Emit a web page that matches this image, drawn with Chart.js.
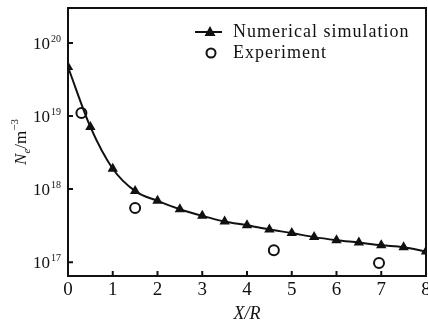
<!DOCTYPE html>
<html>
<head>
<meta charset="utf-8">
<script src="https://cdn.jsdelivr.net/npm/chart.js@4/dist/chart.umd.min.js"></script>
<style>
  html, body { margin: 0; padding: 0; background: #fff; }
  #wrap { width: 428px; height: 327px; }
</style>
</head>
<body>
<div id="wrap"><canvas id="chart"></canvas></div>
<script>
// simulation curve (triangles)
const simX = [0, 0.5, 1, 1.5, 2, 2.5, 3, 3.5, 4, 4.5, 5, 5.5, 6, 6.5, 7, 7.5, 8];
const simY = [4.7e19, 7.1e18, 1.9e18, 9.4e17, 6.9e17, 5.3e17, 4.3e17, 3.6e17, 3.2e17,
    2.8e17, 2.5e17, 2.2e17, 2.0e17, 1.85e17, 1.7e17, 1.6e17, 1.4e17];
// experiment (circles)
const expX = [0.3, 1.5, 4.6, 6.95];
const expY = [1.1e19, 5.5e17, 1.45e17, 9.7e16];

const xTicks = [0, 1, 2, 3, 4, 5, 6, 7, 8];
const yTicks = [1e17, 1e18, 1e19, 1e20];
const yExps = ['17', '18', '19', '20'];
const seriesLabels = ['Numerical simulation', 'Experiment'];

const serif = '"Liberation Serif", "DejaVu Serif", serif';
const ink = '#111';

const framePlugin = {
    id: 'frame',
    afterDraw(chart) {
        const { ctx, chartArea: a, scales: { x, y } } = chart;
        ctx.save();

        // box
        ctx.strokeStyle = ink;
        ctx.lineWidth = 2;
        ctx.strokeRect(a.left, a.top, a.right - a.left, a.bottom - a.top);

        // inward tick marks
        ctx.beginPath();
        xTicks.slice(1, -1).forEach(v => {
            const px = x.getPixelForValue(v);
            ctx.moveTo(px, a.bottom);
            ctx.lineTo(px, a.bottom - 5);
        });
        yTicks.forEach(v => {
            const py = y.getPixelForValue(v);
            ctx.moveTo(a.left, py);
            ctx.lineTo(a.left + 5, py);
        });
        ctx.stroke();

        ctx.fillStyle = ink;

        // x tick labels
        ctx.font = '19px ' + serif;
        ctx.textAlign = 'center';
        ctx.textBaseline = 'middle';
        xTicks.forEach(v => {
            ctx.fillText(String(v), x.getPixelForValue(v), 290);
        });

        // y tick labels 10^n
        yTicks.forEach((v, i) => {
            const py = y.getPixelForValue(v);
            ctx.font = '17px ' + serif;
            ctx.textAlign = 'right';
            ctx.textBaseline = 'middle';
            ctx.fillText('10', 50, py + 1);
            ctx.font = '10px ' + serif;
            ctx.textAlign = 'left';
            ctx.fillText(yExps[i], 51, py - 4);
        });

        // y title N_e/m^-3
        ctx.save();
        ctx.translate(26, 142);
        ctx.rotate(-Math.PI / 2);
        ctx.textBaseline = 'alphabetic';
        ctx.textAlign = 'left';
        const parts = [
            ['italic 17px ' + serif, 'N', 0],
            ['italic 11px ' + serif, 'e', 4],
            ['17px ' + serif, '/m', 0],
            ['11px ' + serif, '\u22123', -8]
        ];
        let w = 0;
        parts.forEach(p => { ctx.font = p[0]; w += ctx.measureText(p[1]).width; });
        let cx = -w / 2;
        parts.forEach(p => {
            ctx.font = p[0];
            ctx.fillText(p[1], cx, p[2]);
            cx += ctx.measureText(p[1]).width;
        });
        ctx.restore();

        // x title
        ctx.font = 'italic 18px ' + serif;
        ctx.textAlign = 'center';
        ctx.textBaseline = 'middle';
        ctx.fillText('X/R', 247, 314);

        // legend
        ctx.textAlign = 'left';
        ctx.font = '18px ' + serif;
        ctx.letterSpacing = '1px';
        ctx.fillText(seriesLabels[0], 233, 32);
        ctx.fillText(seriesLabels[1], 233, 53);
        ctx.letterSpacing = '0px';
        ctx.beginPath();
        ctx.moveTo(195, 32);
        ctx.lineTo(222, 32);
        ctx.lineWidth = 2;
        ctx.stroke();
        ctx.beginPath();
        ctx.moveTo(210, 26);
        ctx.lineTo(215.5, 36);
        ctx.lineTo(204.5, 36);
        ctx.closePath();
        ctx.fill();
        ctx.beginPath();
        ctx.arc(211, 53, 4.5, 0, Math.PI * 2);
        ctx.stroke();

        ctx.restore();
    }
};

new Chart(document.getElementById('chart'), {
    type: 'scatter',
    data: {
        datasets: [
            {
                label: seriesLabels[0],
                data: simX.map((v, i) => ({ x: v, y: simY[i] })),
                showLine: true,
                borderColor: ink,
                borderWidth: 2,
                backgroundColor: ink,
                pointStyle: 'triangle',
                pointRadius: 6,
                pointBorderWidth: 0,
                cubicInterpolationMode: 'monotone',
                clip: 1
            },
            {
                label: seriesLabels[1],
                data: expX.map((v, i) => ({ x: v, y: expY[i] })),
                showLine: false,
                borderColor: ink,
                backgroundColor: 'rgba(0,0,0,0)',
                pointStyle: 'circle',
                pointRadius: 5,
                pointBorderWidth: 2,
                clip: 1
            }
        ]
    },
    options: {
        responsive: true,
        maintainAspectRatio: false,
        animation: false,
        layout: { autoPadding: false, padding: { left: 0, top: 8, right: 2, bottom: 0 } },
        plugins: {
            legend: { display: false },
            tooltip: { enabled: false }
        },
        scales: {
            x: {
                type: 'linear',
                min: 0,
                max: 8,
                afterBuildTicks: s => { s.ticks = xTicks.map(v => ({ value: v })); },
                afterFit: s => { s.height = 51; },
                grid: { display: false },
                border: { display: false },
                ticks: { display: false }
            },
            y: {
                type: 'logarithmic',
                min: Math.pow(10, 16.81),
                max: Math.pow(10, 20.48),
                afterBuildTicks: s => { s.ticks = yTicks.map(v => ({ value: v })); },
                afterFit: s => { s.width = 68; },
                grid: { display: false },
                border: { display: false },
                ticks: { display: false }
            }
        }
    },
    plugins: [framePlugin]
});
</script>
</body>
</html>
